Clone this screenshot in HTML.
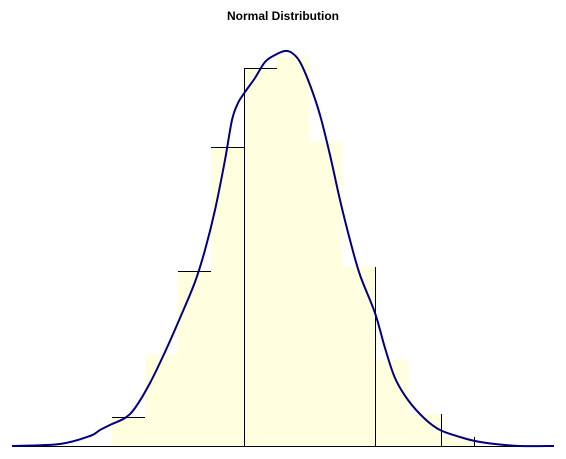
<!DOCTYPE html>
<html><head><meta charset="utf-8"><style>
body{margin:0;background:#fff;}
svg{display:block;font-family:"Liberation Sans",sans-serif;}
</style></head><body>
<svg id="chart" width="566" height="459" viewBox="0 0 566 459">
<text x="283" y="20" text-anchor="middle" font-size="12" font-weight="bold">Normal Distribution</text>
<g id="bars"></g>
<g id="marks"></g>
<line x1="12" y1="446.5" x2="554" y2="446.5" stroke="#000" stroke-width="1"/>
<path id="curve" fill="none" stroke="#000080" stroke-width="2"/>
</svg>
<script>
const binStarts = [112,145,178,211,244,276,309,342,375,408,441];
const binValues = [29,91,175,299,378,389,304,179,86,32,9];
const curveX = [12,60,90,100,112,125,135,150,165,180,195,205,215,225,232,238,245,255,265,275,285,292,300,310,320,330,340,350,360,375,385,395,408,425,440,460,475,495,520,554];
const curveY = [0,2,10,16,22,28,38,63,94,128,164,196,236,286,326,343,354,368,384,391,395,393,384,361,331,291,246,206,171,133,98,68,46,27,16,9,5,2,0,0];
const binWidth = 33;
const base = 446;
const ns = "http://www.w3.org/2000/svg";
const sy = v => base - v;
const bars = document.getElementById('bars');
const marks = document.getElementById('marks');
binStarts.forEach((x0,i)=>{
  const r = document.createElementNS(ns,'rect');
  
  
  r.setAttribute('x',x0);
  r.setAttribute('y',sy(binValues[i]));
  r.setAttribute('width',binWidth+0.5);
  r.setAttribute('height',binValues[i]);
  r.setAttribute('fill','#ffffe0');
  bars.appendChild(r);
});
function ln(x1,y1,x2,y2){
  const l = document.createElementNS(ns,'line');
  
  
  l.setAttribute('x1',x1);l.setAttribute('y1',y1);
  l.setAttribute('x2',x2);l.setAttribute('y2',y2);
  l.setAttribute('stroke','#000');l.setAttribute('stroke-width','1');
  marks.appendChild(l);
}
[0,2,3,4].forEach(i=>{ const y=Math.round(sy(binValues[i]))+0.5; ln(binStarts[i],y,binStarts[i]+binWidth,y); });
ln(binStarts[4]+0.5,sy(binValues[4]),binStarts[4]+0.5,base);
[8,10].forEach(i=>{ const x=binStarts[i]+0.5; ln(x,sy(binValues[i-1]),x,base); });
ln(binStarts[10]+binWidth+0.5,sy(binValues[10]),binStarts[10]+binWidth+0.5,base);
const pts = curveX.map((x,i)=>[x,sy(curveY[i])]);
let d = `M${pts[0][0]},${pts[0][1]}`;
for(let i=0;i<pts.length-1;i++){
  const p0=pts[Math.max(0,i-1)],p1=pts[i],p2=pts[i+1],p3=pts[Math.min(pts.length-1,i+2)];
  const c1=[p1[0]+(p2[0]-p0[0])/6,p1[1]+(p2[1]-p0[1])/6];
  const c2=[p2[0]-(p3[0]-p1[0])/6,p2[1]-(p3[1]-p1[1])/6];
  d+=` C${c1[0]},${c1[1]} ${c2[0]},${c2[1]} ${p2[0]},${p2[1]}`;
}
document.getElementById('curve').setAttribute('d',d);
</script>
</body></html>
